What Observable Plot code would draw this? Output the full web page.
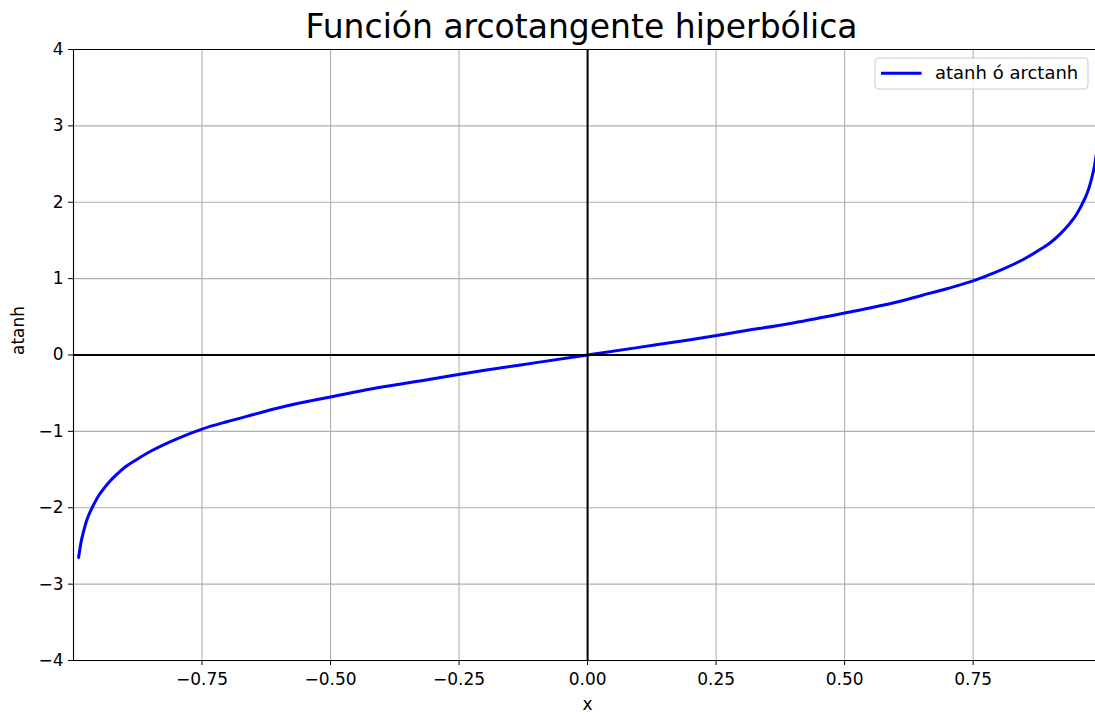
<!DOCTYPE html>
<html><head><meta charset="utf-8">
<script src="https://cdn.jsdelivr.net/npm/d3@7"></script>
<script src="https://cdn.jsdelivr.net/npm/@observablehq/plot@0.6"></script>
<style>
html,body{margin:0;padding:0;background:#fff;overflow:hidden;width:1095px;height:717px;}
#wrap{position:relative;width:1095px;height:717px;overflow:hidden;}
#legend{position:absolute;left:874px;top:57px;}
</style></head><body><div id="wrap"></div>
<script>
// Curve values
const xValues = [-0.99,-0.985,-0.98,-0.975,-0.97,-0.96,-0.95,-0.94,-0.93,-0.92,-0.9,-0.88,-0.85,-0.8,-0.75,-0.7,-0.65,-0.6,-0.5,-0.4,-0.3,-0.2,-0.1,0,
                 0.1,0.2,0.3,0.4,0.5,0.6,0.65,0.7,0.75,0.8,0.85,0.88,0.9,0.92,0.93,0.94,0.95,0.96,0.97,0.975,0.98,0.985,0.99];
const yValues = [-2.65,-2.44,-2.30,-2.18,-2.09,-1.95,-1.83,-1.74,-1.66,-1.59,-1.47,-1.38,-1.26,-1.10,-0.97,-0.87,-0.78,-0.69,-0.55,-0.42,-0.31,-0.20,-0.10,0,
                 0.10,0.20,0.31,0.42,0.55,0.69,0.78,0.87,0.97,1.10,1.26,1.38,1.47,1.59,1.66,1.74,1.83,1.95,2.09,2.18,2.30,2.44,2.65];
const xTicks = [-0.75,-0.5,-0.25,0,0.25,0.5,0.75];
const yTicks = [-4,-3,-2,-1,0,1,2,3,4];
const titleText = "Función arcotangente hiperbólica";
const xLabel = "x";
const yLabel = "atanh";
const legendLabel = "atanh ó arctanh";

const data = xValues.map((x, i) => ({x, y: yValues[i]}));
const font = "DejaVu Sans";

const chart = Plot.plot({
  width: 1095, height: 717,
  marginLeft: 73, marginRight: 0, marginTop: 49, marginBottom: 57,
  style: {fontFamily: font, fontSize: "17px", color: "#000", background: "#fff"},
  x: {domain: [-1, 0.988]},
  y: {domain: [-4, 4]},
  marks: [
    Plot.gridX(xTicks, {stroke: "#b0b0b0", strokeOpacity: 1, strokeWidth: 1.1}),
    Plot.gridY(yTicks, {stroke: "#b0b0b0", strokeOpacity: 1, strokeWidth: 1.1}),
    Plot.line(data, {x: "x", y: "y", stroke: "#0000ff", strokeWidth: 3, curve: "monotone-x"}),
    Plot.ruleY([0], {stroke: "#000", strokeWidth: 2}),
    Plot.ruleX([0], {stroke: "#000", strokeWidth: 2}),
    Plot.ruleY([4], {stroke: "#000", strokeWidth: 1.1}),
    Plot.ruleY([-4], {stroke: "#000", strokeWidth: 1.1}),
    Plot.ruleX([-1], {stroke: "#000", strokeWidth: 1.1}),
    Plot.axisX(xTicks, {tickSize: 5, tickPadding: 7, tickFormat: d3.format(".2f"), label: null, stroke: "#000", fill: "#000", fontSize: 17}),
    Plot.axisY(yTicks, {tickSize: 5, tickPadding: 5, tickFormat: d3.format("d"), label: null, stroke: "#000", fill: "#000", fontSize: 17}),
    Plot.text([titleText], {frameAnchor: "top", lineAnchor: "bottom", dx: -3, dy: -12, fontSize: 33, fill: "#000", text: d => d}),
    Plot.text([xLabel], {frameAnchor: "bottom", lineAnchor: "bottom", dx: 3, dy: 49, fontSize: 17, fill: "#000", text: d => d}),
    Plot.text([yLabel], {frameAnchor: "left", lineAnchor: "bottom", rotate: -90, dx: -50, fontSize: 17, fill: "#000", text: d => d})
  ]
});
const wrap = document.getElementById("wrap");
wrap.appendChild(chart);

// Legend
const ns = "http://www.w3.org/2000/svg";
const lg = document.createElementNS(ns, "svg");
lg.setAttribute("id", "legend");
lg.setAttribute("width", 216); lg.setAttribute("height", 34);
lg.innerHTML = `<rect x="1" y="1" width="213" height="31" rx="4" ry="4" fill="rgba(255,255,255,0.8)" stroke="#cccccc" stroke-width="1.1"></rect>
<line x1="7" y1="16.3" x2="47.5" y2="16.3" stroke="#0000ff" stroke-width="3"></line>
<text x="61" y="22" font-family="${font}" font-size="18" fill="#000">${legendLabel}</text>`;
wrap.appendChild(lg);
</script>
</body></html>
